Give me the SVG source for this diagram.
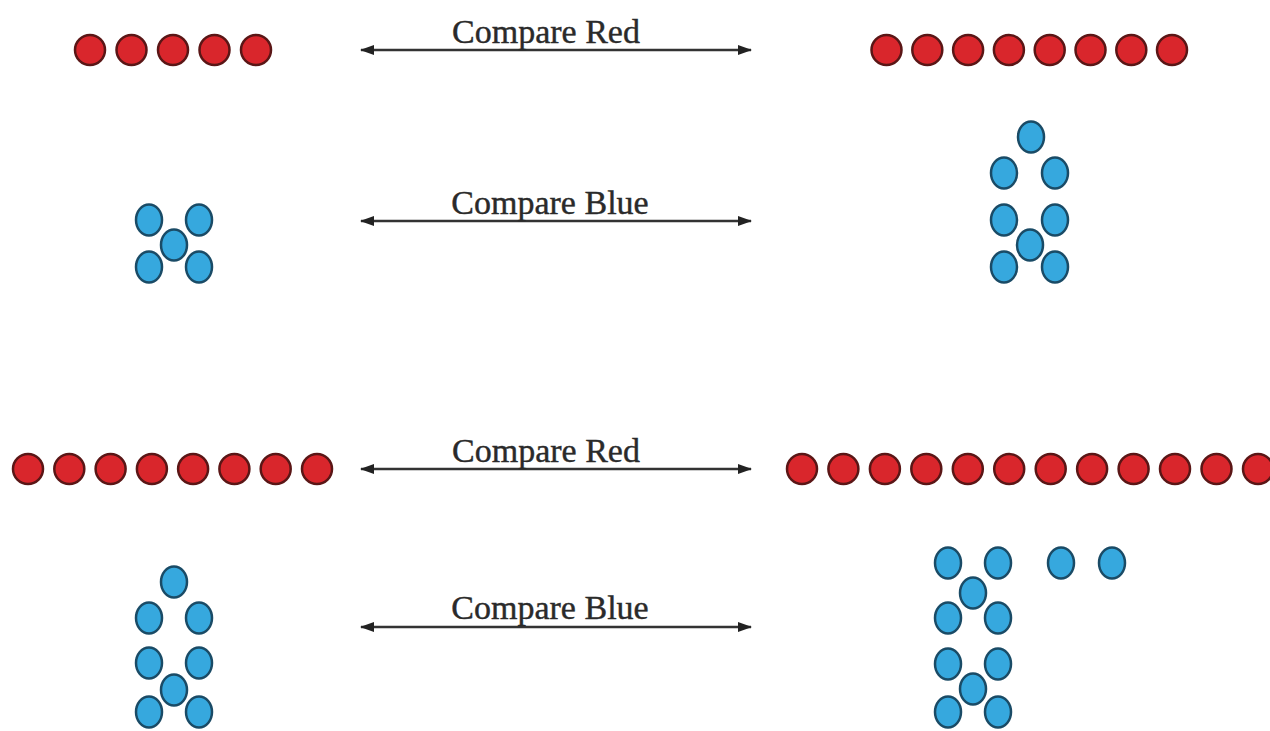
<svg xmlns="http://www.w3.org/2000/svg" width="1270" height="731" viewBox="0 0 1270 731">
<style>
.r{fill:#d9262c;stroke:#5a1616;stroke-width:2.5}
.b{fill:#36a8de;stroke:#1a4b66;stroke-width:2.5}
.ln{stroke:#333;stroke-width:2.5;fill:none;marker-start:url(#ah);marker-end:url(#ah)}
.t{font-family:"Liberation Serif","Times New Roman",serif;font-size:34px;fill:#2a2a2a;text-anchor:middle;stroke:#2a2a2a;stroke-width:0.4}
</style>
<defs>
<marker id="ah" viewBox="0 0 14 10" refX="13" refY="5" markerWidth="14" markerHeight="10" markerUnits="userSpaceOnUse" orient="auto-start-reverse">
<path d="M0,0 L14,5 L0,10 Z" fill="#222"/>
</marker>
</defs>
<rect width="1270" height="731" fill="#fff"/>
<g id="connectors">
<line class="ln" x1="361" y1="50" x2="751" y2="50"/>
<line class="ln" x1="361" y1="221" x2="751" y2="221"/>
<line class="ln" x1="361" y1="469" x2="751" y2="469"/>
<line class="ln" x1="361" y1="627" x2="751" y2="627"/>
</g>
<g id="labels">
<text class="t" x="546" y="43">Compare Red</text>
<text class="t" x="550" y="214">Compare Blue</text>
<text class="t" x="546" y="462">Compare Red</text>
<text class="t" x="550" y="619">Compare Blue</text>
</g>
<g id="red-top-left">
<circle class="r" cx="90" cy="50" r="15"/><circle class="r" cx="131.5" cy="50" r="15"/><circle class="r" cx="173" cy="50" r="15"/><circle class="r" cx="214.5" cy="50" r="15"/><circle class="r" cx="256" cy="50" r="15"/>
</g>
<g id="red-top-right">
<circle class="r" cx="886.5" cy="50" r="15"/><circle class="r" cx="927.3" cy="50" r="15"/><circle class="r" cx="968.1" cy="50" r="15"/><circle class="r" cx="1008.9" cy="50" r="15"/><circle class="r" cx="1049.7" cy="50" r="15"/><circle class="r" cx="1090.5" cy="50" r="15"/><circle class="r" cx="1131.3" cy="50" r="15"/><circle class="r" cx="1172" cy="50" r="15"/>
</g>
<g id="blue-top-left">
<ellipse class="b" cx="149" cy="220" rx="13" ry="15.5"/><ellipse class="b" cx="199" cy="220" rx="13" ry="15.5"/><ellipse class="b" cx="174" cy="245" rx="13" ry="15.5"/><ellipse class="b" cx="149" cy="267" rx="13" ry="15.5"/><ellipse class="b" cx="199" cy="267" rx="13" ry="15.5"/>
</g>
<g id="blue-top-right">
<ellipse class="b" cx="1031" cy="137" rx="13" ry="15.5"/><ellipse class="b" cx="1004" cy="173" rx="13" ry="15.5"/><ellipse class="b" cx="1055" cy="173" rx="13" ry="15.5"/><ellipse class="b" cx="1004" cy="220" rx="13" ry="15.5"/><ellipse class="b" cx="1055" cy="220" rx="13" ry="15.5"/><ellipse class="b" cx="1030" cy="245" rx="13" ry="15.5"/><ellipse class="b" cx="1004" cy="267" rx="13" ry="15.5"/><ellipse class="b" cx="1055" cy="267" rx="13" ry="15.5"/>
</g>
<g id="red-bottom-left">
<circle class="r" cx="28" cy="469" r="15"/><circle class="r" cx="69.3" cy="469" r="15"/><circle class="r" cx="110.6" cy="469" r="15"/><circle class="r" cx="151.9" cy="469" r="15"/><circle class="r" cx="193.1" cy="469" r="15"/><circle class="r" cx="234.4" cy="469" r="15"/><circle class="r" cx="275.7" cy="469" r="15"/><circle class="r" cx="317" cy="469" r="15"/>
</g>
<g id="red-bottom-right">
<circle class="r" cx="802" cy="469" r="15"/><circle class="r" cx="843.4" cy="469" r="15"/><circle class="r" cx="884.9" cy="469" r="15"/><circle class="r" cx="926.3" cy="469" r="15"/><circle class="r" cx="967.8" cy="469" r="15"/><circle class="r" cx="1009.2" cy="469" r="15"/><circle class="r" cx="1050.7" cy="469" r="15"/><circle class="r" cx="1092.1" cy="469" r="15"/><circle class="r" cx="1133.6" cy="469" r="15"/><circle class="r" cx="1175" cy="469" r="15"/><circle class="r" cx="1216.5" cy="469" r="15"/><circle class="r" cx="1258" cy="469" r="15"/>
</g>
<g id="blue-bottom-left">
<ellipse class="b" cx="174" cy="582" rx="13" ry="15.5"/><ellipse class="b" cx="149" cy="618" rx="13" ry="15.5"/><ellipse class="b" cx="199" cy="618" rx="13" ry="15.5"/><ellipse class="b" cx="149" cy="663" rx="13" ry="15.5"/><ellipse class="b" cx="199" cy="663" rx="13" ry="15.5"/><ellipse class="b" cx="174" cy="690" rx="13" ry="15.5"/><ellipse class="b" cx="149" cy="712" rx="13" ry="15.5"/><ellipse class="b" cx="199" cy="712" rx="13" ry="15.5"/>
</g>
<g id="blue-bottom-right">
<ellipse class="b" cx="948" cy="563" rx="13" ry="15.5"/><ellipse class="b" cx="998" cy="563" rx="13" ry="15.5"/><ellipse class="b" cx="1061" cy="563" rx="13" ry="15.5"/><ellipse class="b" cx="1112" cy="563" rx="13" ry="15.5"/><ellipse class="b" cx="973" cy="593" rx="13" ry="15.5"/><ellipse class="b" cx="948" cy="618" rx="13" ry="15.5"/><ellipse class="b" cx="998" cy="618" rx="13" ry="15.5"/><ellipse class="b" cx="948" cy="664" rx="13" ry="15.5"/><ellipse class="b" cx="998" cy="664" rx="13" ry="15.5"/><ellipse class="b" cx="973" cy="689" rx="13" ry="15.5"/><ellipse class="b" cx="948" cy="712" rx="13" ry="15.5"/><ellipse class="b" cx="998" cy="712" rx="13" ry="15.5"/>
</g>
</svg>
